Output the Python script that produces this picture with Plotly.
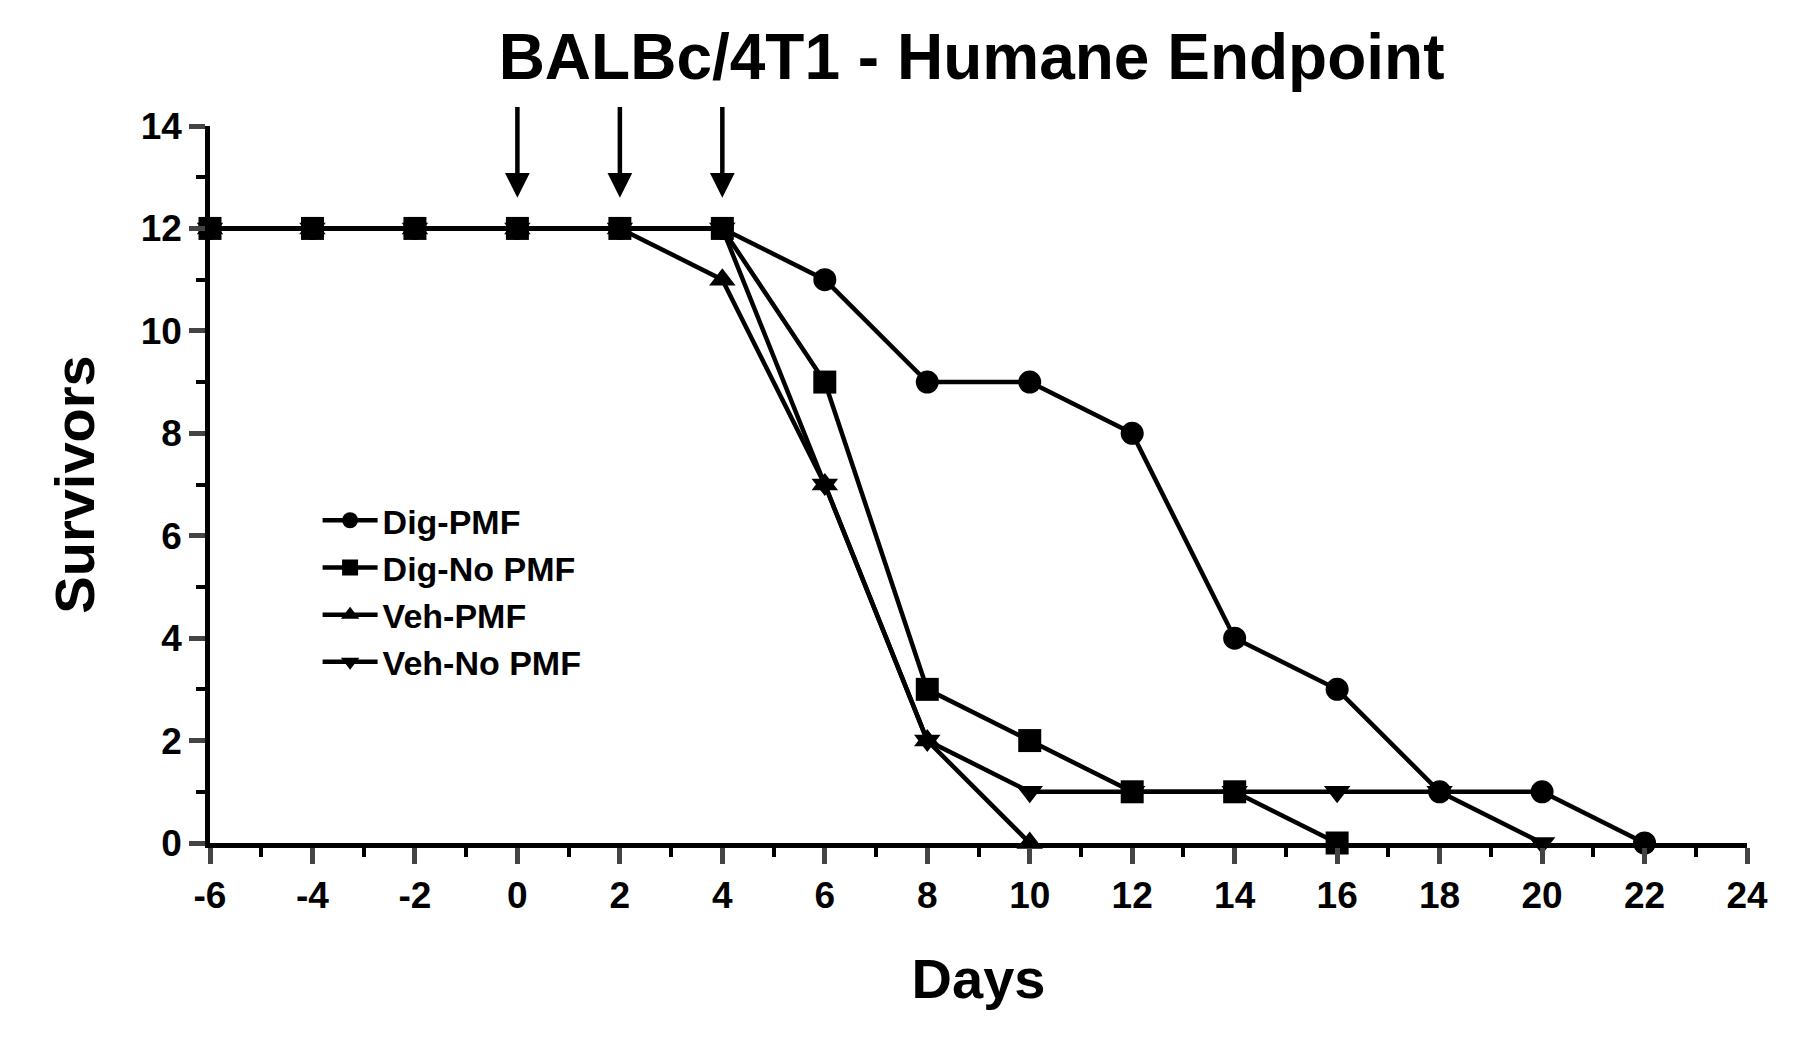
import plotly.graph_objects as go

days_dig_pmf = [-6, -4, -2, 0, 2, 4, 6, 8, 10, 12, 14, 16, 18, 20, 22]
dig_pmf = [12, 12, 12, 12, 12, 12, 11, 9, 9, 8, 4, 3, 1, 1, 0]
days_dig_no = [-6, -4, -2, 0, 2, 4, 6, 8, 10, 12, 14, 16]
dig_no = [12, 12, 12, 12, 12, 12, 9, 3, 2, 1, 1, 0]
days_veh_pmf = [-6, -4, -2, 0, 2, 4, 6, 8, 10]
veh_pmf = [12, 12, 12, 12, 12, 11, 7, 2, 0]
days_veh_no = [-6, -4, -2, 0, 2, 4, 6, 8, 10, 12, 14, 16, 18, 20]
veh_no = [12, 12, 12, 12, 12, 12, 7, 2, 1, 1, 1, 1, 1, 0]
arrow_days = [0, 2, 4]
x_ticks = list(range(-6, 25, 2))
x_ticklabels = [str(v) for v in x_ticks]

F = "Liberation Sans"
series = [
    ("Dig-PMF", days_dig_pmf, dig_pmf, "circle"),
    ("Dig-No PMF", days_dig_no, dig_no, "square"),
    ("Veh-PMF", days_veh_pmf, veh_pmf, "triangle-up"),
    ("Veh-No PMF", days_veh_no, veh_no, "triangle-down"),
]
fig = go.Figure()
for name, x, y, sym in series:
    fig.add_trace(go.Scatter(x=x, y=y, name=name, mode="lines+markers",
                             line=dict(color="black", width=4.5),
                             marker=dict(symbol=sym, size=23, color="black"),
                             cliponaxis=False))
for d in arrow_days:
    fig.add_annotation(x=d, y=12.6, ax=d, ay=14.4, xref="x", yref="y", axref="x", ayref="y",
                       text="", showarrow=True, arrowhead=2, arrowsize=1.1, arrowwidth=4.5,
                       arrowcolor="black")

fig.update_layout(
    width=1801, height=1047, paper_bgcolor="white", plot_bgcolor="white",
    margin=dict(l=202, r=62, t=118, b=212),
    title=dict(text="<b>BALBc/4T1 - Humane Endpoint</b>", x=0.535, xanchor="center", y=0.975,
               yanchor="top", font=dict(family=F, size=64, color="black")),
    font=dict(family=F, color="black"),
    legend=dict(x=0.07, y=0.49, xanchor="left", yanchor="top", bgcolor="rgba(0,0,0,0)",
                font=dict(family=F, size=34, color="black", weight="bold"), itemwidth=55,
                tracegroupgap=10),
    xaxis=dict(range=[-6, 24], tickvals=x_ticks, ticktext=x_ticklabels, showline=True,
               linewidth=4.5, linecolor="black", ticks="outside", ticklen=16, tickwidth=4.5,
               showgrid=False, zeroline=False,
               tickfont=dict(family=F, size=37, weight="bold"),
               minor=dict(dtick=1, ticks="outside", ticklen=9, tickwidth=3.5, tickcolor="black"),
               title=dict(text="<b>Days</b>", font=dict(family=F, size=56), standoff=45)),
    yaxis=dict(range=[0, 14], tickvals=list(range(0, 15, 2)), showline=True, linewidth=4.5,
               linecolor="black", ticks="outside", ticklen=16, tickwidth=4.5, showgrid=False,
               zeroline=False, tickfont=dict(family=F, size=37, weight="bold"),
               minor=dict(dtick=1, ticks="outside", ticklen=9, tickwidth=3.5, tickcolor="black"),
               title=dict(text="<b>Survivors</b>", font=dict(family=F, size=56), standoff=30)),
)
fig.write_html("out.html")
